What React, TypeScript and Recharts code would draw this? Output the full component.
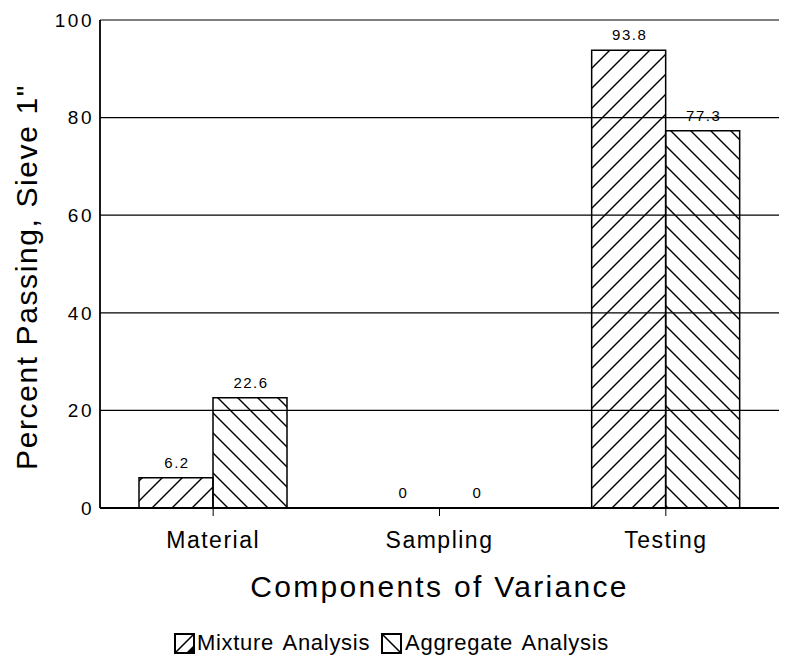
import { BarChart, Bar, Cell, XAxis, YAxis, CartesianGrid, LabelList, Legend } from "recharts";

const CATEGORIES = ["Material", "Sampling", "Testing"];
const MIXTURE = [6.2, 0, 93.8];
const AGGREGATE = [22.6, 0, 77.3];
const Y_TICKS = [0, 20, 40, 60, 80, 100];

const FONT = "'Liberation Sans', Arial, Helvetica, sans-serif";
const LEGEND_H = 24;

const data = CATEGORIES.map((name, i) => ({
  name,
  mixture: MIXTURE[i],
  aggregate: AGGREGATE[i],
}));

// value labels above the bars (also drawn for the zero-height bars)
function renderValue(props: any) {
  const { x, y, width, height, value } = props;
  // zero bars get a tiny min height so the label still shows; anchor on the baseline
  const top = Number(value) === 0 ? Number(y) + Number(height) : Number(y);
  return (
    <text
      x={Number(x) + Number(width) / 2 + 1}
      y={top - 10}
      textAnchor="middle"
      fill="#000"
      fontSize={15}
      fontFamily={FONT}
      letterSpacing={1.5}
    >
      {value}
    </text>
  );
}

function renderYLabel(props: any) {
  const { viewBox } = props;
  const x = viewBox.x + 37;
  const y = viewBox.y + viewBox.height / 2 + 13;
  return (
    <text
      x={x}
      y={y}
      transform={`rotate(-90 ${x} ${y})`}
      textAnchor="middle"
      fill="#000"
      fontSize={30}
      fontFamily={FONT}
      letterSpacing={1.6}
    >
      Percent Passing, Sieve 1"
    </text>
  );
}

function HatchSwatch({ dir }: { dir: "up" | "down" }) {
  return (
    <svg width={21} height={21} style={{ display: "block" }}>
      <rect x={1} y={1} width={19} height={19} fill="#fff" stroke="#000" strokeWidth={2} />
      {dir === "up" ? (
        <>
          <line x1={1} y1={20} x2={20} y2={1} stroke="#000" strokeWidth={1.6} />
          <path d="M12 20 L20 12 L20 20 Z" fill="#000" />
        </>
      ) : (
        <line x1={1} y1={1} x2={20} y2={20} stroke="#000" strokeWidth={1.6} />
      )}
    </svg>
  );
}

function LegendContent() {
  return (
    <div
      style={{
        height: LEGEND_H,
        display: "flex",
        justifyContent: "center",
        alignItems: "center",
        fontFamily: FONT,
        fontSize: 22,
        color: "#000",
        paddingLeft: 4,
        letterSpacing: 0.7,
        wordSpacing: 3,
      }}
    >
      <HatchSwatch dir="up" />
      <span style={{ marginLeft: 2, marginRight: 11 }}>Mixture Analysis</span>
      <HatchSwatch dir="down" />
      <span style={{ marginLeft: 3 }}>Aggregate Analysis</span>
    </div>
  );
}

export default function App() {
  return (
    <div style={{ position: "absolute", left: 0, top: 0, background: "#fff" }}>
      <BarChart
        width={785}
        height={665}
        data={data}
        margin={{ top: 20, right: 6, bottom: 0, left: 0 }}
        barCategoryGap={39}
        barGap={0}
      >
        <defs>
          <pattern id="hatchUp" patternUnits="userSpaceOnUse" width={20} height={20}>
            <line x1={-5} y1={25} x2={25} y2={-5} stroke="#000" strokeWidth={1.4} />
            <line x1={-5} y1={5} x2={5} y2={-5} stroke="#000" strokeWidth={1.4} />
            <line x1={15} y1={25} x2={25} y2={15} stroke="#000" strokeWidth={1.4} />
          </pattern>
          <pattern id="hatchDown" patternUnits="userSpaceOnUse" width={20} height={20}>
            <line x1={-5} y1={-5} x2={25} y2={25} stroke="#000" strokeWidth={1.4} />
            <line x1={15} y1={-5} x2={25} y2={5} stroke="#000" strokeWidth={1.4} />
            <line x1={-5} y1={15} x2={5} y2={25} stroke="#000" strokeWidth={1.4} />
          </pattern>
        </defs>
        <CartesianGrid vertical={false} stroke="#000" strokeWidth={1.2} />
        <XAxis
          dataKey="name"
          height={157 - LEGEND_H}
          axisLine={{ stroke: "#000", strokeWidth: 1.8 }}
          tickLine={{ stroke: "#000" }}
          tickSize={8}
          tickMargin={16}
          tick={{ fill: "#000", fontSize: 23, fontFamily: FONT, letterSpacing: 1.5 }}
          label={{
            value: "Components of Variance",
            position: "insideBottom",
            offset: 44,
            fill: "#000",
            fontSize: 30,
            fontFamily: FONT,
            letterSpacing: 2.3,
          }}
        />
        <YAxis
          domain={[0, 100]}
          ticks={Y_TICKS}
          width={100}
          axisLine={{ stroke: "#000", strokeWidth: 1.8 }}
          tickLine={false}
          tickSize={0}
          tickMargin={6}
          tick={{ fill: "#000", fontSize: 19, fontFamily: FONT, letterSpacing: 2.5 }}
          label={{ content: renderYLabel }}
        />
        <YAxis
          yAxisId="right"
          orientation="right"
          domain={[0, 100]}
          width={0}
          tick={false}
          tickLine={false}
          axisLine={{ stroke: "#000", strokeWidth: 1.8 }}
        />
        <Legend
          verticalAlign="bottom"
          wrapperStyle={{ bottom: 10, height: LEGEND_H }}
          content={<LegendContent />}
        />
        <Bar
          dataKey="mixture"
          name="Mixture Analysis"
          fill="url(#hatchUp)"
          stroke="#000"
          strokeWidth={1.5}
          minPointSize={0.5}
          isAnimationActive={false}
        >
          {MIXTURE.map((v, i) => (
            <Cell key={i} stroke={v === 0 ? "none" : "#000"} />
          ))}
          <LabelList dataKey="mixture" content={renderValue} />
        </Bar>
        <Bar
          dataKey="aggregate"
          name="Aggregate Analysis"
          fill="url(#hatchDown)"
          stroke="#000"
          strokeWidth={1.5}
          minPointSize={0.5}
          isAnimationActive={false}
        >
          {AGGREGATE.map((v, i) => (
            <Cell key={i} stroke={v === 0 ? "none" : "#000"} />
          ))}
          <LabelList dataKey="aggregate" content={renderValue} />
        </Bar>
      </BarChart>
    </div>
  );
}
